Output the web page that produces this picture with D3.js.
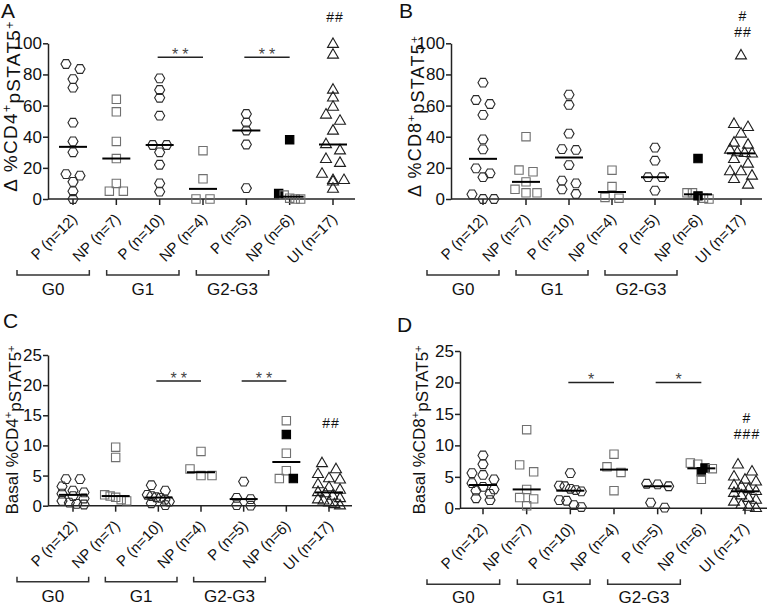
<!DOCTYPE html>
<html>
<head>
<meta charset="utf-8">
<script src="https://cdn.jsdelivr.net/npm/d3@7"></script>
<style>
  body { margin: 0; background: #fff; }
  svg { display: block; }
  text { font-family: "Liberation Sans", Arial, sans-serif; fill: #111; }
</style>
</head>
<body>
<svg id="chart" width="768" height="607"></svg>
<script>
// ─── Data ────────────────────────────────────────────────────────────────────
const categories = ["P (n=12)", "NP (n=7)", "P (n=10)", "NP (n=4)", "P (n=5)", "NP (n=6)", "UI (n=17)"];
const shapes = ["hex", "square", "hex", "square", "hex", "square", "triangle"];
const groupLabels = ["G0", "G1", "G2-G3"];

// Δ %CD4+pSTAT5+
const aValues = [
  [86.7, 71.5, 83.5, 77, 49, 37, 30, 15, 16, 11, 5, 0],
  [64, 56, 37, 26, 10, 5, 5],
  [77.5, 70, 65, 53.5, 34.7, 34.7, 30, 22, 10, 4.7],
  [31, 13, 0, 0],
  [49, 44, 54.6, 35, 7],
  [2.5, 0.5, 0, 0],
  [99.4, 92.5, 70, 65, 59, 54, 50, 43.7, 35, 31, 25.5, 23, 16, 12, 12, 11, 6.4]
];
const aFilled = [38, 3.5];          // black squares, G2-G3 NP
const aSig = [[2, 3, "**"], [4, 5, "**"]];
const aSigLevel = 91;
const aHash = [["##", 114]];

// Δ %CD8+pSTAT5+
const bValues = [
  [74.7, 61, 63.6, 54, 38.3, 31.9, 16.5, 19.7, 14, 3, 0, 0],
  [40, 18.6, 17.5, 11, 6.2, 4, 4],
  [67, 60.4, 42, 31.5, 32, 21.8, 10, 11.8, 6.2, 3.2],
  [18.5, 8, 1, 0.5],
  [33, 24.6, 14, 14, 5.4],
  [4, 4, 0.5, 0],
  [92, 48, 46, 41.8, 36, 34.7, 31.5, 29.8, 29.3, 29, 25.5, 22.5, 17.6, 17.6, 14.8, 12.6, 9]
];
const bFilled = [26, 2];
const bSig = [];
const bSigLevel = 0;
const bHash = [["#", 114.5], ["##", 104]];

// Basal %CD4+pSTAT5+
const cValues = [
  [4.4, 4.4, 3.2, 2.5, 2.2, 2.0, 1.6, 1.2, 0.8, 0.5, 0.3, 0.2],
  [9.7, 8.0, 1.8, 1.6, 1.4, 1.0, 0.8],
  [3.4, 2.5, 1.8, 1.6, 1.4, 1.3, 1.0, 0.7, 0.4, 0.1],
  [9, 6.1, 5, 5],
  [4.0, 1.3, 1.1, 0.1, 0],
  [14.1, 8.7, 5.8, 4.5],
  [7.0, 6.0, 5.2, 4.5, 4.3, 3.5, 3.0, 2.6, 2.2, 2.0, 1.6, 1.2, 1.0, 0.8, 0.5, 0.2, 0.0]
];
const cFilled = [11.8, 4.5];
const cSig = [[2, 3, "**"], [4, 5, "**"]];
const cSigLevel = 20.7;
const cHash = [["##", 12.9]];

// Basal %CD8+pSTAT5+
const dValues = [
  [8.4, 7.0, 5.6, 5.3, 4.6, 4.0, 3.4, 3.0, 2.8, 2.3, 1.6, 1.3],
  [12.5, 6.9, 5.8, 3.0, 1.7, 1.5, 0.4],
  [5.6, 3.6, 3.5, 3.1, 2.9, 2.7, 1.3, 1.2, 0.5, 0.2],
  [8.6, 6.6, 5.7, 2.8],
  [3.9, 3.8, 3.5, 0.9, 0.1],
  [7.2, 7.0, 6.3, 4.6],
  [6.9, 5.8, 5.0, 4.5, 4.2, 3.6, 3.4, 3.0, 2.7, 2.4, 2.0, 1.6, 1.3, 1.0, 0.5, 0.2, 0.0]
];
const dFilled = [6.4, 5.8];
const dSig = [[2, 3, "*"], [4, 5, "*"]];
const dSigLevel = 20;
const dHash = [["#", 13.6], ["###", 11.0]];

// ─── Layout ──────────────────────────────────────────────────────────────────
const panels = [
  { letter: "A", lx: 1, ly: 18, values: aValues, filled: aFilled, sig: aSig, sigLevel: aSigLevel, hash: aHash,
    ymax: 100, step: 20, left: 48, right: 355, top: 43.3, bottom: 199, xr: [73, 333],
    title: ["Δ %CD4", "pSTAT5"], tx: 17, ty: 106, tsize: 19, tspace: 1.3 },
  { letter: "B", lx: 399, ly: 18, values: bValues, filled: bFilled, sig: bSig, sigLevel: bSigLevel, hash: bHash,
    ymax: 100, step: 20, left: 451, right: 762, top: 43.3, bottom: 199, xr: [483, 741],
    title: ["Δ %CD8", "pSTAT5"], tx: 421, ty: 116, tsize: 18, tspace: 1.2 },
  { letter: "C", lx: 3, ly: 328, values: cValues, filled: cFilled, sig: cSig, sigLevel: cSigLevel, hash: cHash,
    ymax: 25, step: 5, left: 48, right: 352, top: 355, bottom: 505.7, xr: [73, 329],
    title: ["Basal %CD4", "pSTAT5"], tx: 18, ty: 430, tsize: 17, tspace: 0 },
  { letter: "D", lx: 397, ly: 332, values: dValues, filled: dFilled, sig: dSig, sigLevel: dSigLevel, hash: dHash,
    ymax: 25, step: 5, left: 460, right: 767, top: 351, bottom: 508.3, xr: [483, 745],
    title: ["Basal %CD8", "pSTAT5"], tx: 425, ty: 430, tsize: 17, tspace: 0 }
];

const ROW_H = 7;        // points closer than this (px) share a row
const MEDIAN_HALF = 14; // half width of the median bar

// regular hexagon, flat top/bottom
const hexagon = {
  draw(ctx, size) {
    const r = Math.sqrt(size / (1.5 * Math.sqrt(3)));
    for (let i = 0; i < 6; i++) {
      const a = i * Math.PI / 3;
      i ? ctx.lineTo(r * Math.cos(a), r * Math.sin(a)) : ctx.moveTo(r, 0);
    }
    ctx.closePath();
  }
};
const symbolType = { hex: hexagon, square: d3.symbolSquare, triangle: d3.symbolTriangle };
const symbolSize = { hex: 66, square: 70, triangle: 52 };
const strokeCol = { hex: "#2b2b2b", square: "#707070", triangle: "#1e1e1e" };

// Prism-like scatter: stack points into rows, spread each row symmetrically
function spread(points, y, cx) {
  points.sort((a, b) => b.v - a.v);
  const rows = [];
  points.forEach(p => {
    p.py = y(p.v);
    const last = rows[rows.length - 1];
    if (last && p.py - last[0].py < ROW_H) last.push(p); else rows.push([p]);
  });
  rows.forEach(row => {
    const n = row.length;
    const gap = n > 1 ? Math.min(14, 22 / (n - 1)) : 0;
    row.forEach((p, i) => { p.px = cx + (i - (n - 1) / 2) * gap; });
  });
  return points;
}

const svg = d3.select("#chart");

function drawPanel(p) {
  const g = svg.append("g");
  const y = d3.scaleLinear().domain([0, p.ymax]).range([p.bottom, p.top]);
  const x = d3.scalePoint().domain(categories).range(p.xr);

  g.append("text").attr("x", p.lx).attr("y", p.ly)
    .style("font-size", "21px").text(p.letter);

  // ── Y axis ──
  const yAxis = d3.axisLeft(y)
    .tickValues(d3.range(0, p.ymax + 0.001, p.step))
    .tickSize(5).tickSizeOuter(0).tickPadding(1);
  const ya = g.append("g").attr("transform", `translate(${p.left},0)`).call(yAxis);
  ya.attr("font-family", null);
  ya.select(".domain").attr("stroke", "#222").attr("stroke-width", 1.5);
  ya.selectAll(".tick line").attr("stroke", "#222").attr("stroke-width", 1.5);
  ya.selectAll(".tick text").style("font-size", "17px").attr("fill", "#111");

  // ── X axis ──
  g.append("line")
    .attr("x1", p.left).attr("x2", p.right)
    .attr("y1", p.bottom).attr("y2", p.bottom)
    .attr("stroke", "#222").attr("stroke-width", 1.5);
  g.selectAll(".xtick").data(categories).join("line")
    .attr("x1", d => x(d)).attr("x2", d => x(d))
    .attr("y1", p.bottom).attr("y2", p.bottom + 6)
    .attr("stroke", "#222").attr("stroke-width", 1.5);
  g.selectAll(".xlab").data(categories).join("text")
    .attr("transform", d => `translate(${x(d) + 5},${p.bottom + 21}) rotate(-45)`)
    .attr("text-anchor", "end")
    .style("font-size", "15px")
    .text(d => d);

  // ── group brackets ──
  groupLabels.forEach((label, i) => {
    const x1 = x(categories[2 * i]) - 56 + 3 * i;
    const x2 = x(categories[2 * i + 1]) - 27 + 3 * i;
    const by = p.bottom + 76;
    g.append("path")
      .attr("d", `M${x1},${by - 5}V${by}H${x2}V${by - 5}`)
      .attr("fill", "none").attr("stroke", "#333").attr("stroke-width", 1.5);
    g.append("text")
      .attr("x", (x1 + x2) / 2).attr("y", Math.min(p.bottom + 96, 603))
      .attr("text-anchor", "middle")
      .style("font-size", "17px")
      .text(label);
  });

  // ── y title ──
  const t = g.append("text")
    .attr("transform", `translate(${p.tx},${p.ty}) rotate(-90)`)
    .attr("text-anchor", "middle")
    .style("font-size", p.tsize + "px")
    .style("letter-spacing", p.tspace + "px");
  t.append("tspan").text(p.title[0]);
  t.append("tspan").attr("dy", "-0.5em").style("font-size", "0.65em").text("+");
  t.append("tspan").attr("dy", "0.5em").text(p.title[1]);
  t.append("tspan").attr("dy", "-0.5em").style("font-size", "0.65em").text("+");

  // ── points ──
  categories.forEach((cat, ci) => {
    const pts = p.values[ci].map(v => ({ v, filled: false }));
    if (ci === 5) p.filled.forEach(v => pts.push({ v, filled: true }));
    spread(pts, y, x(cat));
    const shape = shapes[ci];
    const sym = d3.symbol().type(symbolType[shape]).size(symbolSize[shape]);

    g.append("g").selectAll("path").data(pts).join("path")
      .attr("transform", d => `translate(${d.px},${d.py})`)
      .attr("d", sym)
      .attr("fill", d => d.filled ? "#000" : "none")
      .attr("stroke", d => d.filled ? "#000" : strokeCol[shape])
      .attr("stroke-width", 1.1);

    const med = d3.median(pts, d => d.v);
    g.append("line")
      .attr("x1", x(cat) - MEDIAN_HALF).attr("x2", x(cat) + MEDIAN_HALF)
      .attr("y1", y(med)).attr("y2", y(med))
      .attr("stroke", "#000").attr("stroke-width", 2);
  });

  // ── significance bars ──
  p.sig.forEach(([a, b, label]) => {
    const x1 = x(categories[a]) - 2, x2 = x(categories[b]);
    const sy = y(p.sigLevel);
    g.append("line").attr("x1", x1).attr("x2", x2).attr("y1", sy).attr("y2", sy)
      .attr("stroke", "#222").attr("stroke-width", 1.5);
    g.append("text")
      .attr("x", (x1 + x2) / 2 + 2).attr("y", sy + 3)
      .attr("text-anchor", "middle")
      .style("font-size", "16px").style("letter-spacing", "4px")
      .style("fill", "#444")
      .text(label);
  });

  // ── # marks over UI ──
  p.hash.forEach(([label, level]) => {
    g.append("text")
      .attr("x", x(categories[6]) + 2).attr("y", y(level))
      .attr("text-anchor", "middle")
      .style("font-size", "14px").style("letter-spacing", "1px")
      .text(label);
  });
}

panels.forEach(drawPanel);
</script>
</body>
</html>
